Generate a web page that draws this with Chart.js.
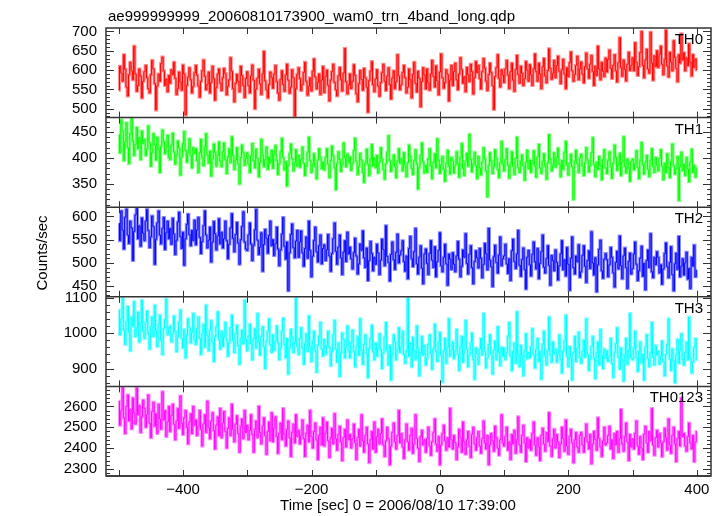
<!DOCTYPE html>
<html>
<head>
<meta charset="utf-8">
<script src="https://cdn.jsdelivr.net/npm/chart.js@4.4.1/dist/chart.umd.min.js"></script>
<style>
  html, body { margin: 0; padding: 0; background: #fff; }
  #wrap { position: relative; width: 722px; height: 516px; }
</style>
</head>
<body>
<div id="wrap">
  <canvas id="lc" width="722" height="516"></canvas>
</div>
<script>
// light curve bins: first bin start and bin width (sec)
const timeStart = -500;
const timeBin = 2;

const th0Rate = [
  548,610,592,571,640,602,556,533,588,620,598,575,662,590,545,560,603,584,528,571,
  596,612,580,552,541,588,625,603,565,497,559,590,571,617,634,598,560,577,544,586,
  566,601,588,620,579,537,552,595,570,548,613,590,484,561,582,606,575,541,558,593,
  612,587,559,530,571,598,626,584,549,563,595,541,568,610,577,522,555,589,603,566,
  547,580,604,591,536,558,575,632,597,552,518,566,589,571,544,610,586,560,529,578,
  596,560,541,585,613,574,500,551,579,602,565,537,590,648,572,549,528,563,595,581,
  553,589,612,570,541,522,576,598,563,545,587,615,574,540,556,601,580,481,552,589,
  606,578,547,563,594,620,571,535,558,580,546,597,629,582,551,568,590,537,574,609,
  542,583,600,561,520,574,596,615,568,549,533,585,607,575,546,592,656,570,538,561,
  590,552,571,614,586,539,518,565,599,576,548,604,580,556,491,573,597,622,563,544,
  577,601,559,532,568,593,615,571,547,584,606,563,525,579,598,552,570,640,585,549,
  562,594,612,580,541,556,603,575,528,589,620,566,543,597,578,505,571,606,587,551,
  603,567,548,590,625,584,556,611,572,536,595,642,580,553,568,601,589,520,574,612,
  560,596,618,575,549,590,632,601,566,583,544,607,588,570,615,596,538,581,622,593,
  612,578,551,596,630,605,572,547,589,618,594,560,498,583,606,640,579,556,601,587,
  568,603,625,587,552,596,618,574,545,601,638,589,566,610,592,560,578,622,599,571,
  614,588,560,603,642,596,571,618,590,552,608,630,585,567,599,655,604,576,592,625,
  580,612,636,597,565,601,628,590,552,606,583,619,647,598,571,589,612,636,575,603,
  621,590,567,609,644,603,579,615,638,596,560,610,586,662,603,575,620,597,583,631,
  595,628,652,605,578,612,640,598,569,619,684,607,584,626,601,572,615,646,599,612,
  632,598,671,620,586,609,645,700,612,580,626,654,603,592,698,618,574,637,609,650,
  607,640,662,615,588,628,703,611,582,646,621,598,676,632,605,570,640,618,694,626,
  645,598,632,611,668,620,585,640,607,629,600
];
const th1Rate = [
  445,410,474,452,395,431,468,420,389,447,476,433,405,426,459,418,440,397,452,428,
  436,405,418,462,429,384,411,447,425,396,440,416,372,423,454,432,408,419,444,401,
  397,425,448,412,388,406,433,419,367,402,428,451,414,392,410,437,405,381,420,409,
  418,395,372,410,436,401,385,422,447,406,390,413,365,398,427,411,384,405,431,394,
  383,412,429,397,370,402,418,391,441,405,378,396,420,389,350,401,425,410,386,399,
  410,388,372,404,428,395,381,417,399,364,392,436,406,383,397,421,378,402,390,415,
  380,406,424,395,368,389,412,438,401,377,393,346,386,409,427,398,375,391,416,384,
  405,382,397,421,390,366,384,411,440,395,372,389,408,383,360,396,418,401,379,392,
  377,401,418,388,362,395,423,404,381,339,390,412,397,374,386,429,400,383,408,391,
  402,376,390,414,438,393,368,385,409,396,372,353,391,417,388,366,398,426,384,401,
  381,405,371,392,420,398,378,359,389,411,443,395,374,387,406,383,362,394,418,390,
  399,375,410,386,364,391,425,403,380,368,395,416,388,340,382,405,429,392,371,386,
  372,398,418,385,360,392,408,381,437,396,370,387,403,378,355,390,415,384,369,401,
  394,371,386,412,389,363,401,428,380,366,393,409,384,446,397,373,388,411,385,360,
  403,381,367,392,420,398,375,325,386,410,394,370,383,416,400,378,362,391,432,388,
  375,397,418,386,361,390,412,384,368,399,440,381,372,394,406,385,357,392,415,379,
  396,372,389,414,385,363,402,426,381,370,393,408,384,359,391,445,398,375,387,410,
  382,401,419,388,364,395,378,411,432,386,367,390,407,383,320,394,415,389,372,400,
  407,384,366,391,420,396,373,385,410,439,388,364,392,378,403,385,358,397,416,381,
  370,395,412,383,361,390,425,401,376,387,409,366,392,441,384,371,398,380,355,393,
  398,377,389,414,382,360,395,430,387,369,391,405,378,364,396,418,383,372,401,386,
  375,399,416,384,358,390,372,408,381,362,394,427,385,369,378,403,318,383,411,376,
  388,366,401,379,354,392,417,372,386,363,381
];
const th2Rate = [
  585,548,612,571,530,598,616,560,542,590,575,505,568,603,617,552,580,536,597,564,
  548,590,615,570,533,556,601,578,497,551,586,612,560,541,574,598,529,565,590,552,
  574,540,596,562,518,549,588,609,557,531,566,495,552,583,605,561,537,570,548,592,
  539,571,598,555,520,546,580,612,560,532,549,577,502,545,589,563,528,558,595,541,
  566,532,552,590,548,509,540,575,606,553,524,561,587,543,497,550,578,610,545,530,
  527,560,586,541,505,538,571,615,549,518,534,565,482,540,572,553,521,559,590,537,
  550,516,541,577,530,494,528,562,598,536,508,545,440,522,561,584,533,511,547,570,
  512,545,569,522,493,531,556,510,590,527,470,515,548,577,524,502,537,560,498,531,
  539,505,528,561,515,482,520,552,586,525,497,534,560,511,475,523,548,503,566,519,
  534,509,487,522,553,515,476,498,541,527,569,511,490,532,462,505,546,520,483,512,
  497,540,521,475,506,551,529,494,580,514,501,461,518,545,507,486,523,562,500,517,
  526,548,503,482,515,466,531,557,509,492,524,574,498,476,512,537,489,455,519,530,
  499,475,520,548,506,490,535,470,503,527,565,494,481,512,540,498,452,519,508,486,
  522,497,481,515,546,508,470,493,528,512,563,499,476,518,537,490,455,503,526,511,
  489,531,510,468,497,542,520,485,574,506,492,449,513,538,501,478,517,556,494,509,
  515,540,498,477,509,462,526,551,503,488,519,570,495,471,507,532,486,444,512,527,
  496,472,518,545,503,487,531,466,499,524,560,491,478,509,537,495,452,516,505,483,
  528,501,463,494,519,548,485,507,472,533,497,441,510,556,490,476,515,502,539,469,
  481,516,537,493,458,505,526,488,567,500,474,511,438,496,529,549,483,467,508,520,
  507,470,496,533,512,479,448,501,525,487,558,494,466,515,532,490,445,503,521,476,
  488,519,545,497,462,483,510,536,471,499,442,505,528,490,563,481,468,512,496,524,
  512,478,496,454,487,520,543,492,468,501,535,475,440,498,521,486,557,470,493,509,
  474,500,523,465,488,445,512,493,538,470,484
];
const th3Rate = [
  1065,995,1040,1098,1010,968,1032,1075,1002,950,1045,1020,1088,990,1015,1058,975,1030,1092,1005,
  985,1030,1062,998,955,1018,1045,990,1078,1008,962,1025,1050,980,940,1012,1038,1096,995,1015,
  1020,975,998,1048,1005,948,990,1032,1065,985,958,1010,930,995,1040,1015,972,1002,1055,980,
  968,1012,1045,985,940,998,1025,960,1078,992,950,1008,1035,975,920,990,1018,1060,982,955,
  1005,962,990,1030,980,935,972,1015,1050,978,945,998,1022,965,912,985,1008,970,1092,982,
  950,992,1025,970,925,985,1012,958,1055,975,938,990,1018,962,900,978,1005,1040,968,945,
  995,952,978,1020,972,925,960,1005,1042,968,930,985,885,958,1010,990,945,975,1098,962,
  940,985,1015,958,912,970,998,948,1048,962,920,978,1005,950,890,965,992,1030,955,935,
  982,940,965,1005,960,908,948,995,1035,955,918,972,878,945,1000,982,930,962,1020,950,
  930,975,1008,948,905,962,990,938,1040,952,912,968,995,942,875,958,985,1022,948,925,
  972,935,958,998,952,900,945,988,1030,950,910,965,868,940,995,975,925,955,1015,945,
  962,1005,940,915,950,1098,935,972,905,988,950,925,1020,958,880,945,990,938,965,910,
  930,968,995,942,898,955,1025,948,920,975,1002,938,862,950,985,915,960,1040,935,952,
  975,928,950,1010,940,895,962,990,918,945,1035,955,905,938,972,1000,925,870,958,942,
  912,955,985,938,1055,948,902,930,968,995,940,885,952,978,925,1018,945,908,960,935,
  958,925,945,990,1030,935,895,948,972,915,1060,940,905,965,938,880,952,998,928,945,
  930,962,1012,940,902,955,985,920,948,870,968,1005,935,910,950,1045,938,918,975,942,
  955,918,940,995,925,888,950,978,1050,935,905,962,930,868,945,990,920,958,1002,932,
  915,948,980,932,1040,940,895,925,962,990,930,872,945,975,910,1010,938,900,955,928,
  950,920,935,985,915,875,945,970,1015,932,898,958,925,865,940,985,912,952,1055,930,
  925,958,1005,930,892,948,975,915,940,868,960,995,928,905,945,1030,932,910,965,938,
  948,912,935,978,920,880,940,968,1040,928,895,955,922,860,938,982,915,950,998,925,
  910,945,975,925,1045,930,888,920,960,985,925
];
const th0123Rate = [
  2625,2510,2580,2690,2545,2470,2600,2655,2530,2585,2492,2640,2570,2515,2688,2560,2605,2475,2550,2630,
  2590,2500,2560,2655,2520,2450,2575,2620,2505,2565,2470,2610,2540,2490,2670,2535,2580,2455,2525,2600,
  2480,2555,2610,2515,2440,2530,2590,2495,2650,2520,2465,2545,2580,2500,2420,2525,2565,2470,2600,2510,
  2535,2460,2505,2580,2490,2410,2515,2560,2475,2625,2500,2445,2530,2570,2485,2395,2510,2550,2460,2590,
  2450,2520,2575,2480,2400,2495,2545,2460,2610,2490,2430,2515,2555,2470,2380,2505,2540,2445,2580,2475,
  2510,2440,2485,2560,2465,2380,2490,2530,2450,2600,2475,2420,2505,2545,2460,2370,2480,2525,2435,2570,
  2430,2495,2550,2455,2375,2470,2520,2440,2590,2465,2410,2490,2530,2450,2360,2475,2515,2425,2560,2455,
  2485,2420,2460,2535,2445,2360,2470,2510,2430,2580,2455,2400,2480,2520,2440,2345,2460,2500,2415,2545,
  2410,2470,2525,2435,2355,2450,2495,2420,2565,2445,2390,2465,2505,2430,2340,2450,2490,2405,2535,2440,
  2465,2400,2445,2515,2425,2345,2450,2490,2410,2560,2435,2380,2460,2500,2420,2330,2440,2480,2395,2525,
  2380,2455,2490,2420,2470,2540,2415,2360,2435,2500,2445,2320,2410,2475,2520,2430,2395,2460,2580,2425,
  2470,2405,2350,2440,2515,2430,2390,2460,2495,2375,2420,2560,2445,2400,2335,2455,2485,2415,2440,2380,
  2445,2500,2410,2365,2430,2475,2540,2420,2385,2455,2320,2415,2470,2510,2435,2390,2450,2405,2590,2440,
  2395,2460,2425,2345,2405,2490,2450,2380,2525,2430,2370,2440,2480,2410,2355,2465,2500,2420,2390,2450,
  2480,2410,2375,2445,2530,2425,2395,2460,2320,2415,2470,2435,2385,2505,2450,2400,2365,2440,2560,2425,
  2410,2455,2500,2390,2430,2345,2465,2420,2485,2375,2440,2550,2415,2380,2460,2510,2425,2335,2450,2400,
  2440,2390,2470,2525,2415,2365,2450,2405,2340,2460,2495,2420,2385,2475,2430,2570,2410,2360,2445,2490,
  2400,2465,2430,2355,2420,2500,2445,2385,2535,2410,2370,2455,2490,2425,2330,2440,2475,2405,2380,2460,
  2475,2415,2380,2450,2515,2430,2395,2465,2325,2420,2480,2440,2390,2545,2445,2405,2360,2435,2500,2415,
  2425,2460,2505,2395,2440,2350,2470,2415,2480,2380,2445,2585,2420,2385,2455,2520,2430,2340,2465,2405,
  2445,2395,2470,2530,2410,2370,2455,2400,2345,2465,2505,2425,2380,2480,2435,2590,2415,2365,2450,2485,
  2405,2470,2425,2360,2430,2495,2450,2390,2540,2415,2375,2460,2500,2420,2335,2445,2480,2410,2640,2455,
  2470,2410,2385,2455,2520,2425,2395,2460,2335,2430,2480
];

const panelNames  = ['TH0', 'TH1', 'TH2', 'TH3', 'TH0123'];
const panelRates  = [th0Rate, th1Rate, th2Rate, th3Rate, th0123Rate];
const panelTicks  = [
  [500, 550, 600, 650, 700],
  [350, 400, 450],
  [450, 500, 550, 600],
  [900, 1000, 1100],
  [2300, 2400, 2500, 2600]
];
const timeTicks  = [-500, -400, -300, -200, -100, 0, 100, 200, 300, 400];
const timeLabels = [-400, -200, 0, 200, 400];

const titleText = 'ae999999999_20060810173900_wam0_trn_4band_long.qdp';
const yTitle = 'Counts/sec';
const xTitle = 'Time [sec] 0 = 2006/08/10 17:39:00';

// axis setup (not data)
const panelRanges = [[477, 709], [305, 478], [427, 620], [850, 1102], [2266, 2696]];
const panelMinor  = [10, 10, 10, 20, 20];
const panelColors = ['#ff0000', '#00ff00', '#0000ff', '#00ffff', '#ff00ff'];
const panelHalo   = ['rgba(255,0,0,0.45)', 'rgba(0,255,0,0.45)', 'rgba(0,0,255,0.45)', 'rgba(0,255,255,0.45)', 'rgba(255,0,255,0.45)'];

const FAMILY = '"Liberation Sans", Arial, sans-serif';
const FONT = { family: FAMILY, size: 15 };

const toPoints = rates => rates.map((v, i) => ({ x: timeStart + i * timeBin, y: v }));

const datasets = [];
panelRates.forEach((rates, k) => {
  // lighter band behind, like the error bars
  datasets.push({
    data: toPoints(rates), yAxisID: 'y' + k, stepped: 'middle',
    borderColor: panelHalo[k], borderWidth: 3, pointRadius: 0
  });
  datasets.push({
    data: toPoints(rates), yAxisID: 'y' + k, stepped: 'middle',
    borderColor: panelColors[k], borderWidth: 1, pointRadius: 0
  });
});

const scales = {
  x: {
    type: 'linear', position: 'bottom', min: -520, max: 422,
    grid: { display: false, drawTicks: false }, border: { display: false },
    afterBuildTicks: s => { s.ticks = timeTicks.map(v => ({ value: v })); },
    afterFit: s => { s.height = 40; },
    ticks: {
      autoSkip: false, maxRotation: 0, padding: 5, color: '#000', font: FONT,
      callback: v => timeLabels.includes(v) ? (v < 0 ? '\u2212' + (-v) : String(v)) : ''
    }
  }
};
// stacked axes are laid out bottom-up, so add the last panel first
for (let k = panelNames.length - 1; k >= 0; k--) {
  scales['y' + k] = {
    type: 'linear', position: 'left', stack: 'lc', stackWeight: 1,
    min: panelRanges[k][0], max: panelRanges[k][1],
    grid: { display: false, drawTicks: false }, border: { display: false },
    afterBuildTicks: s => { s.ticks = panelTicks[k].map(v => ({ value: v })); },
    afterFit: s => { s.width = 106; },
    ticks: { padding: 9, color: '#000', font: FONT, autoSkip: false, callback: v => String(v) }
  };
}

// frame, inward ticks, panel names and titles, qdp style
const framePlugin = {
  id: 'qdpFrame',
  afterDatasetsDraw(chart) {
    const { ctx, chartArea: a } = chart;
    const xs = chart.scales.x;
    ctx.save();
    ctx.strokeStyle = '#333';
    ctx.lineWidth = 1;
    ctx.fillStyle = '#000';
    ctx.font = FONT.size + 'px ' + FAMILY;
    panelNames.forEach((name, k) => {
      const s = chart.scales['y' + k];
      ctx.beginPath();
      panelTicks[k].forEach(v => {
        const y = Math.round(s.getPixelForValue(v)) + 0.5;
        ctx.moveTo(a.left, y); ctx.lineTo(a.left + 8, y);
        ctx.moveTo(a.right, y); ctx.lineTo(a.right - 8, y);
      });
      const m = panelMinor[k];
      for (let v = Math.ceil(s.min / m) * m; v <= s.max; v += m) {
        if (panelTicks[k].includes(v)) continue;
        const y = Math.round(s.getPixelForValue(v)) + 0.5;
        ctx.moveTo(a.left, y); ctx.lineTo(a.left + 4, y);
        ctx.moveTo(a.right, y); ctx.lineTo(a.right - 4, y);
      }
      timeTicks.forEach(t => {
        const x = Math.round(xs.getPixelForValue(t)) + 0.5;
        ctx.moveTo(x, s.top); ctx.lineTo(x, s.top + 6);
        ctx.moveTo(x, s.bottom); ctx.lineTo(x, s.bottom - 6);
      });
      ctx.stroke();

      ctx.textAlign = 'right';
      ctx.textBaseline = 'alphabetic';
      ctx.fillText(name, a.right - 8, s.top + 16);
    });
    ctx.lineWidth = 1.5;
    ctx.strokeRect(a.left, a.top, a.right - a.left, a.bottom - a.top);
    panelNames.forEach((name, k) => {
      const y = chart.scales['y' + k].bottom;
      ctx.beginPath(); ctx.moveTo(a.left, y); ctx.lineTo(a.right, y); ctx.stroke();
    });

    // titles
    ctx.textAlign = 'left';
    ctx.fillText(titleText, 108, 21);
    ctx.textAlign = 'center';
    ctx.fillText(xTitle, 398, 510);
    ctx.translate(47, 253);
    ctx.rotate(-Math.PI / 2);
    ctx.fillText(yTitle, 0, 0);
    ctx.restore();
  }
};

new Chart(document.getElementById('lc'), {
  type: 'line',
  data: { datasets },
  options: {
    responsive: false, devicePixelRatio: 1, animation: false,
    layout: { padding: { left: 0, right: 11, top: 28, bottom: 0 } },
    plugins: { legend: { display: false }, tooltip: { enabled: false } },
    scales
  },
  plugins: [framePlugin]
});
</script>
</body>
</html>
